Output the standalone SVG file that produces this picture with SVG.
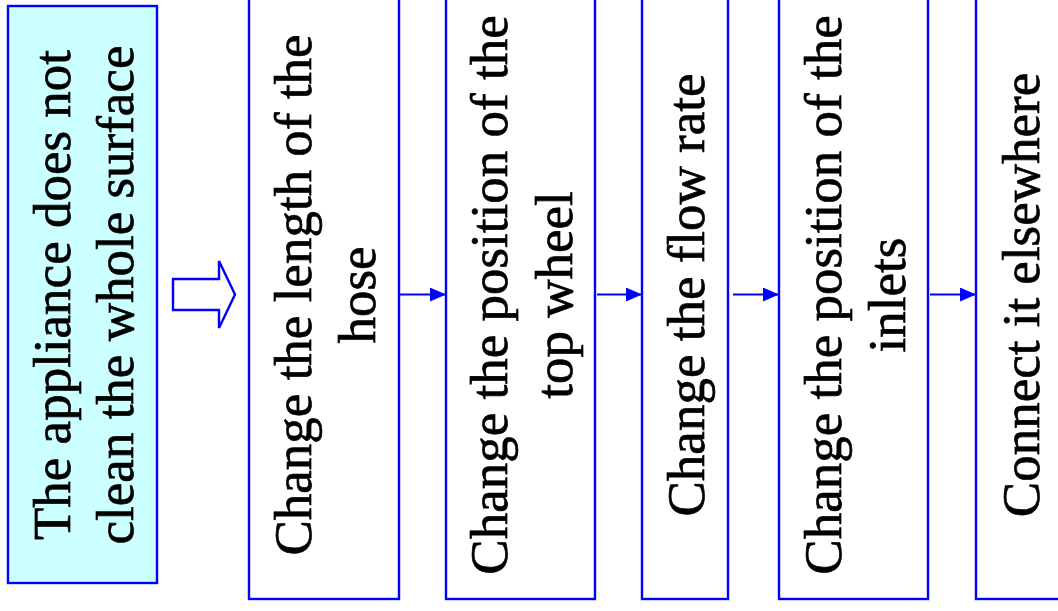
<svg xmlns="http://www.w3.org/2000/svg" width="1058" height="611" viewBox="0 0 1058 611">
<defs>
<style>
.box{fill:#FFFFFF;stroke:#0000FF;stroke-width:2.4}
.start{fill:#CCFFFF;stroke:#0000FF;stroke-width:2.4}
.lbl{font-family:"Liberation Serif","Times New Roman",serif;font-size:53px;fill:#000000;stroke:#000000;stroke-width:0.7;text-anchor:middle}
.conn{stroke:#0000FF;stroke-width:2.2;fill:none}
.block{fill:#FFFFFF;stroke:#0000FF;stroke-width:2.4;stroke-linejoin:miter}
</style>
<marker id="ah" viewBox="0 0 16 14" refX="16" refY="7" markerWidth="16" markerHeight="14" markerUnits="userSpaceOnUse" orient="auto">
<path d="M0,0 L16,7 L0,14 Z" fill="#0000FF"/>
</marker>
</defs>
<rect width="1058" height="611" fill="#FFFFFF"/>
<g id="node-problem">
<rect class="start" x="8" y="6" width="149" height="577"/>
<text class="lbl" transform="translate(82.5,295) rotate(-90)"><tspan x="0" y="-12.5">The appliance does not</tspan><tspan x="0" y="50.5">clean the whole surface</tspan></text>
</g>
<g id="node-hose">
<rect class="box" x="249" y="-10" width="150" height="609"/>
<text class="lbl" transform="translate(324,295) rotate(-90)"><tspan x="0" y="-13">Change the length of the</tspan><tspan x="0" y="51">hose</tspan></text>
</g>
<g id="node-wheel">
<rect class="box" x="446" y="-10" width="149" height="609"/>
<text class="lbl" transform="translate(520.5,295) rotate(-90)"><tspan x="0" y="-13.5">Change the position of the</tspan><tspan x="0" y="51">top wheel</tspan></text>
</g>
<g id="node-flow">
<rect class="box" x="642" y="-10" width="86" height="609"/>
<text class="lbl" transform="translate(685,295) rotate(-90)"><tspan x="0" y="19">Change the flow rate</tspan></text>
</g>
<g id="node-inlets">
<rect class="box" x="779" y="-10" width="149" height="609"/>
<text class="lbl" transform="translate(853.5,295) rotate(-90)"><tspan x="0" y="-13">Change the position of the</tspan><tspan x="0" y="51">inlets</tspan></text>
</g>
<g id="node-connect">
<rect class="box" x="976" y="-10" width="87" height="609"/>
<text class="lbl" transform="translate(1019.5,295) rotate(-90)"><tspan x="0" y="19">Connect it elsewhere</tspan></text>
</g>
<g id="connectors">
<polygon class="block" points="173,279 219,279 219,261 235,294.5 219,328 219,310 173,310"/>
<line class="conn" x1="400" y1="294.5" x2="446" y2="294.5" marker-end="url(#ah)"/>
<line class="conn" x1="597" y1="294.5" x2="642" y2="294.5" marker-end="url(#ah)"/>
<line class="conn" x1="733" y1="294.5" x2="779" y2="294.5" marker-end="url(#ah)"/>
<line class="conn" x1="930" y1="294.5" x2="976" y2="294.5" marker-end="url(#ah)"/>
</g>
</svg>
